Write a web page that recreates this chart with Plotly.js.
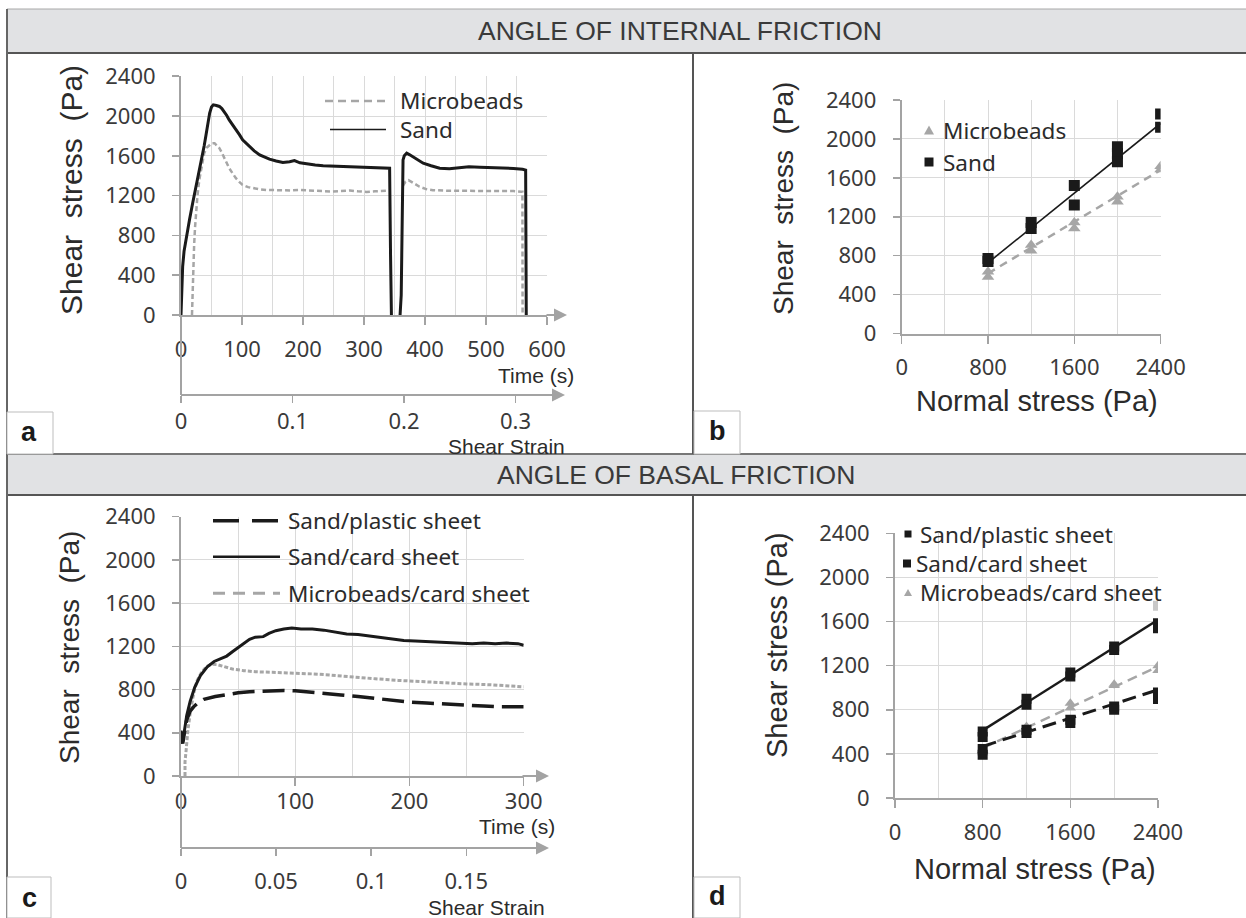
<!DOCTYPE html>
<html><head><meta charset="utf-8">
<script src="https://cdn.plot.ly/plotly-3.0.1.min.js"></script>
<style>html,body{margin:0;padding:0;background:#fff}#chart{width:1246px;height:918px}</style>
</head><body><div id="chart"></div>
<script>
// ---------- DATA ----------
// Panel a: shear stress (Pa) vs time (s)
const timeSandA = [0,2.7,5,8,11,14,19,23,27,31,35,38,41,44,47,50,53,58,63,67,71,75,79,85,90,96,101,107,112,120,129,137,145,156,167,178,186,195,205,220,233,250,266,282,298,315,331,342,343.5,344,345,350,356,359,361,362,363,364,366,370,375,381,390,397,410,424,440,460,472,490,508,525,545,560,565,565.5,566];
const stressSandA = [0,486,640,754,870,960,1120,1240,1358,1470,1590,1700,1810,1930,2030,2090,2112,2105,2096,2075,2045,2005,1961,1910,1861,1810,1760,1725,1693,1650,1609,1585,1566,1548,1532,1540,1552,1530,1519,1508,1499,1495,1492,1490,1485,1482,1479,1475,600,0,-20,-30,-25,-15,200,700,1200,1559,1600,1626,1610,1586,1555,1526,1500,1475,1470,1480,1490,1485,1483,1478,1473,1465,1456,700,0];
const timeBeadsA = [18,19,20,21.5,23,24.6,27,30,34,38,42,46.5,50,55,60,63,67,71,75,79,85,90,96,101,110,118,130,140,155,167,180,194,210,222,236,249,262,277,290,304,318,331,340,null,364,368,373,380,391,402,413,435,455,472,490,508,525,545,558,559.7,560];
const stressBeadsA = [0,250,480,700,880,1023,1200,1358,1500,1626,1680,1710,1725,1727,1700,1677,1630,1576,1525,1475,1420,1375,1335,1308,1285,1274,1262,1257,1254,1251,1252,1257,1250,1247,1244,1240,1246,1251,1243,1237,1243,1247,1250,null,1300,1339,1356,1330,1289,1265,1255,1249,1250,1249,1247,1245,1246,1245,1238,1238,0];
const seriesNamesA = ['Microbeads','Sand'];

// Panel b: shear stress vs normal stress
const normalSandB = [800,800,1200,1200,1600,1600,2000,2000,2000,2400,2400];
const shearSandB = [770,740,1140,1080,1520,1320,1920,1850,1765,2255,2120];
const normalBeadsB = [800,800,1200,1200,1600,1600,2000,2000,2400,2400];
const shearBeadsB = [635,580,910,850,1140,1080,1405,1355,1720,1685];
const fitNormal = [800,2400];
const fitSandB = [727,2159];
const fitBeadsB = [617,1680];

// Panel c: basal friction vs time
const timeCardC = [0,1.5,3,5,8,12,17,23,29,35,40,45,50,55,60,65,72,77,83,90,97,105,115,125,135,145,155,165,175,185,195,205,215,225,235,245,255,265,275,285,295,300];
const stressCardC = [420,320,420,560,690,820,930,1010,1060,1090,1110,1150,1190,1230,1265,1285,1290,1320,1345,1360,1370,1360,1360,1350,1335,1315,1310,1295,1280,1265,1255,1250,1245,1245,1240,1230,1225,1230,1225,1230,1225,1210];
const timeBeadsC = [3.5,3.5,4.5,6,8,11,14,18,22,27,32,38,45,55,65,80,100,115,130,150,170,190,210,230,250,270,290,300];
const stressBeadsC = [0,130,240,420,580,760,880,960,1010,1035,1030,1010,990,975,965,960,955,945,935,915,900,885,872,862,852,845,835,825];
const timePlasticC = [0,1.5,3,5,8,11,15,20,30,40,50,60,75,90,100,110,125,140,155,170,185,200,215,230,250,265,280,290,300];
const stressPlasticC = [380,300,400,520,600,640,680,710,735,755,770,780,790,792,788,780,765,750,735,718,700,685,675,665,655,648,640,640,640];
const seriesNamesC = ['Sand/plastic sheet','Sand/card sheet','Microbeads/card sheet'];

// Panel d: basal friction envelopes
const normalD = [800,800,1200,1200,1600,1600,2000,2000,2400,2400];
const shearPlasticD = [392,444,619,589,709,679,830,800,957,897];
const shearCardD = [604,553,900,845,1138,1102,1374,1343,1585,1540];
const shearBeadsD = [430,410,649,619,860,815,1032,1020,1198,1156];
const strayNormalD = [2400];
const strayShearD = [1742];
const fitPlasticD = [468,981];
const fitCardD = [613,1615];
const fitBeadsD = [453,1192];

// Tick labels for the strain axes
const strainTicksA = [0,0.1,0.2,0.3];
const strainTicksC = [0,0.05,0.1,0.15];

// ---------- LAYOUT HELPERS ----------
const W = 1246, H = 918;
const px = v => v / W;
const py = v => 1 - v / H;
const BLACK = '#1a1a1a', GRAY = '#a6a6a6', AXIS = '#a3a3a3', GRID = '#dadada', TXT = '#2b2b2b';
const tickFont = {family: 'Noto Sans, Open Sans, sans-serif', size: 22, color: '#3a3a3a'};
const legFont = {family: 'Noto Sans, Open Sans, sans-serif', size: 22.5, color: TXT};
const titleFamily = 'Liberation Sans, Arial, sans-serif';

function yAx(dom, anchor) {
  return {domain: dom, anchor, range: [0, 2400], tickmode: 'linear', tick0: 0, dtick: 400,
    ticks: 'outside', ticklen: 7, tickwidth: 1.5, tickcolor: AXIS, showline: true, linecolor: AXIS,
    linewidth: 2, showgrid: true, gridcolor: GRID, gridwidth: 1, zeroline: false,
    tickfont: tickFont, ticklabelstandoff: 12, fixedrange: true};
}
function xAx(dom, anchor, range, dtick, minor, standoff) {
  return {domain: dom, anchor, range, tickmode: 'linear', tick0: 0, dtick,
    ticks: 'outside', ticklen: 8, tickwidth: 1.5, tickcolor: AXIS, showline: true, linecolor: AXIS,
    linewidth: 2, showgrid: true, gridcolor: GRID, gridwidth: 1, zeroline: false,
    minor: {dtick: minor, tick0: 0, showgrid: true, gridcolor: GRID, gridwidth: 1, ticks: ''},
    tickfont: tickFont, ticklabelstandoff: standoff, fixedrange: true};
}
function strainAx(over, pos, range, vals, standoff) {
  return {overlaying: over, anchor: 'free', position: pos, side: 'bottom', range,
    tickmode: 'array', tickvals: vals, ticktext: vals.map(v => String(v)),
    ticks: 'outside', ticklen: 7, tickwidth: 1.5, tickcolor: AXIS, showline: true, linecolor: AXIS,
    linewidth: 2, showgrid: false, zeroline: false, tickfont: tickFont, ticklabelstandoff: standoff, fixedrange: true};
}

// ---------- TRACES ----------
const traces = [
  // a
  {x: timeBeadsA, y: stressBeadsA, xaxis: 'x', yaxis: 'y', mode: 'lines', name: seriesNamesA[0],
   line: {color: GRAY, width: 2.5, dash: '5px,3px'}, connectgaps: false},
  {x: timeSandA, y: stressSandA, xaxis: 'x', yaxis: 'y', mode: 'lines', name: seriesNamesA[1],
   line: {color: BLACK, width: 3}},
  {x: [], y: [], xaxis: 'x5', yaxis: 'y', mode: 'lines', showlegend: false},
  // b
  {x: fitNormal, y: fitBeadsB, xaxis: 'x2', yaxis: 'y2', mode: 'lines', line: {color: GRAY, width: 2.5, dash: '8px,6px'}},
  {x: fitNormal, y: fitSandB, xaxis: 'x2', yaxis: 'y2', mode: 'lines', line: {color: BLACK, width: 1.6}},
  {x: normalBeadsB, y: shearBeadsB, xaxis: 'x2', yaxis: 'y2', mode: 'markers', name: seriesNamesA[0],
   marker: {symbol: 'triangle-up', size: 11, color: GRAY}},
  {x: normalSandB, y: shearSandB, xaxis: 'x2', yaxis: 'y2', mode: 'markers', name: seriesNamesA[1],
   marker: {symbol: 'square', size: 11, color: BLACK}},
  // c
  {x: timeBeadsC, y: stressBeadsC, xaxis: 'x3', yaxis: 'y3', mode: 'lines', name: seriesNamesC[2],
   line: {color: GRAY, width: 3, dash: '4px,2px'}},
  {x: timePlasticC, y: stressPlasticC, xaxis: 'x3', yaxis: 'y3', mode: 'lines', name: seriesNamesC[0],
   line: {color: BLACK, width: 3.5, dash: '22px,8px'}},
  {x: timeCardC, y: stressCardC, xaxis: 'x3', yaxis: 'y3', mode: 'lines', name: seriesNamesC[1],
   line: {color: BLACK, width: 3}},
  {x: [], y: [], xaxis: 'x6', yaxis: 'y3', mode: 'lines', showlegend: false},
  // d
  {x: strayNormalD, y: strayShearD, xaxis: 'x4', yaxis: 'y4', mode: 'markers', marker: {symbol: 'square', size: 10, color: '#c8c8c8'}},
  {x: fitNormal, y: fitBeadsD, xaxis: 'x4', yaxis: 'y4', mode: 'lines', line: {color: GRAY, width: 2.5, dash: '10px,6px'}},
  {x: fitNormal, y: fitPlasticD, xaxis: 'x4', yaxis: 'y4', mode: 'lines', line: {color: BLACK, width: 3, dash: '14px,7px'}},
  {x: fitNormal, y: fitCardD, xaxis: 'x4', yaxis: 'y4', mode: 'lines', line: {color: BLACK, width: 2.5}},
  {x: normalD, y: shearBeadsD, xaxis: 'x4', yaxis: 'y4', mode: 'markers', name: seriesNamesC[2],
   marker: {symbol: 'triangle-up', size: 10, color: GRAY}},
  {x: normalD, y: shearPlasticD, xaxis: 'x4', yaxis: 'y4', mode: 'markers', name: seriesNamesC[0],
   marker: {symbol: 'square', size: 10, color: BLACK}},
  {x: normalD, y: shearCardD, xaxis: 'x4', yaxis: 'y4', mode: 'markers', name: seriesNamesC[1],
   marker: {symbol: 'square', size: 10, color: BLACK}}
];
traces.forEach(t => { t.showlegend = false; t.hoverinfo = 'skip'; });

// ---------- SHAPES ----------
const shapes = [];
function rectPx(x0, y0, x1, y1, fill, lineColor, lw, layer, opacity) {
  shapes.push({type: 'rect', xref: 'paper', yref: 'paper', x0: px(x0), x1: px(x1), y0: py(y1), y1: py(y0),
    fillcolor: fill, line: {color: lineColor || 'rgba(0,0,0,0)', width: lw || 0}, layer: layer || 'below', opacity: opacity == null ? 1 : opacity});
}
function linePx(x0, y0, x1, y1, color, w, dash, layer) {
  shapes.push({type: 'line', xref: 'paper', yref: 'paper', x0: px(x0), x1: px(x1), y0: py(y0), y1: py(y1),
    line: {color, width: w, dash: dash || 'solid'}, layer: layer || 'above'});
}
function triPx(cx, cy, s, color) {
  const h = s * 0.9;
  shapes.push({type: 'path', xref: 'paper', yref: 'paper',
    path: `M ${px(cx - s/2)},${py(cy + h/2)} L ${px(cx + s/2)},${py(cy + h/2)} L ${px(cx)},${py(cy - h/2)} Z`,
    fillcolor: color, line: {width: 0}, layer: 'above'});
}
function sqPx(cx, cy, s, color) {
  shapes.push({type: 'rect', xref: 'paper', yref: 'paper', x0: px(cx - s/2), x1: px(cx + s/2), y0: py(cy + s/2), y1: py(cy - s/2),
    fillcolor: color, line: {width: 0}, layer: 'above'});
}
// header bands
rectPx(7, 9, 1252, 53, '#e1e2e4', '#a8a8a8', 1);
rectPx(7, 454, 1252, 495, '#e1e2e4', '#8a8a8a', 1);
linePx(7, 53, 1246, 53, '#555', 2);
linePx(7, 495, 1246, 495, '#555', 2);
linePx(7, 454, 1246, 454, '#777', 2);
// frame lines
linePx(7, 9, 7, 918, '#666', 2);
linePx(693, 53, 693, 454, '#555', 2);
linePx(693, 495, 693, 918, '#555', 2);
// letter boxes
rectPx(7, 412, 53, 454, '#fff', '#bdbdbd', 1, 'above');
rectPx(694, 411, 740, 454, '#fff', '#bdbdbd', 1, 'above');
rectPx(7, 877, 51, 918, '#fff', '#bdbdbd', 1, 'above');
rectPx(694, 877, 740, 918, '#fff', '#bdbdbd', 1, 'above');
// legend backgrounds
rectPx(286, 77, 547, 135, '#fff', null, 0, 'between', 0.9);
rectPx(205, 505, 524, 614, '#fff', null, 0, 'between', 0.75);
rectPx(898, 520, 1158, 608, '#fff', null, 0, 'between', 0.75);
rectPx(905, 110, 1072, 178, '#fff', null, 0, 'between', 0.6);
// y axis extensions down to strain axes
linePx(181, 315, 181, 395, AXIS, 2);
linePx(181, 776, 181, 848, AXIS, 2);
// legend samples a
linePx(325, 101, 390, 101, GRAY, 2.5, '8px,5px');
linePx(330, 129.5, 386, 129.5, BLACK, 1.6);
// legend samples c
linePx(213, 520.7, 280, 520.7, BLACK, 3.5, '26px,13px');
linePx(213, 556.7, 280, 556.7, BLACK, 2.5);
linePx(213, 593.3, 280, 593.3, GRAY, 3, '12px,8px');
// legend symbols b
triPx(929, 130, 10, GRAY);
sqPx(929, 162, 9, BLACK);
// legend symbols d
sqPx(908, 534, 7, BLACK);
sqPx(907, 563.5, 8, BLACK);
triPx(908, 592.5, 8, GRAY);

// ---------- ANNOTATIONS ----------
const ann = [];
function txt(text, x, y, font, xanchor, angle) {
  ann.push({text, x: px(x), y: py(y), xref: 'paper', yref: 'paper', showarrow: false,
    xanchor: xanchor || 'center', yanchor: 'middle', font, textangle: angle || 0, borderpad: 0});
}
function arrow(xTip, y, len) {
  ann.push({text: '', x: px(xTip), y: py(y), xref: 'paper', yref: 'paper', showarrow: true,
    ax: -len, ay: 0, arrowhead: 2, arrowsize: 1.3, arrowwidth: 2, arrowcolor: AXIS, standoff: 0});
}
const hdrFont = {family: titleFamily, size: 26.5, color: '#3a3a3a'};
txt('ANGLE OF INTERNAL FRICTION', 680, 31, hdrFont);
txt('ANGLE OF BASAL FRICTION', 676, 475, hdrFont);
const letFont = {family: titleFamily, size: 27, color: '#1a1a1a'};
txt('<b>a</b>', 29, 432, letFont);
txt('<b>b</b>', 717, 431, letFont);
txt('<b>c</b>', 29, 898, letFont);
txt('<b>d</b>', 717, 896, letFont);
const nb = '\u00a0';
txt('Shear' + nb + nb + 'stress' + nb + nb + '(Pa)', 71, 190, {family: titleFamily, size: 30, color: TXT}, 'center', -90);
txt('Shear' + nb + nb + 'stress' + nb + nb + '(Pa)', 784, 199, {family: titleFamily, size: 28, color: TXT}, 'center', -90);
txt('Shear' + nb + nb + 'stress' + nb + nb + '(Pa)', 69, 648, {family: titleFamily, size: 28, color: TXT}, 'center', -90);
txt('Shear stress (Pa)', 777, 645, {family: titleFamily, size: 29, color: TXT}, 'center', -90);
txt('Normal stress (Pa)', 1037, 401, {family: titleFamily, size: 29, color: TXT});
txt('Normal stress (Pa)', 1035, 869, {family: titleFamily, size: 29, color: TXT});
const smallFont = {family: titleFamily, size: 21, color: TXT};
txt('Time (s)', 575, 375, smallFont, 'right');
txt('Shear Strain', 566, 446, smallFont, 'right');
txt('Time (s)', 556, 826, smallFont, 'right');
txt('Shear Strain', 546, 907, smallFont, 'right');
// legends (text)
txt(seriesNamesA[0], 399, 101, legFont, 'left');
txt(seriesNamesA[1], 399, 129.5, legFont, 'left');
txt(seriesNamesA[0], 942, 130, legFont, 'left');
txt(seriesNamesA[1], 942, 162, legFont, 'left');
txt(seriesNamesC[0], 287, 520.7, legFont, 'left');
txt(seriesNamesC[1], 287, 556.7, legFont, 'left');
txt(seriesNamesC[2], 287, 593.3, legFont, 'left');
txt(seriesNamesC[0], 919, 534, legFont, 'left');
txt(seriesNamesC[1], 915, 563.5, legFont, 'left');
txt(seriesNamesC[2], 919, 592.5, legFont, 'left');
// axis arrows
arrow(567, 315, 22);
arrow(565, 395, 22);
arrow(549, 776, 28);
arrow(549, 848, 28);

// ---------- LAYOUT ----------
const layout = {
  width: W, height: H, margin: {l: 0, r: 0, t: 0, b: 0}, paper_bgcolor: '#fff', plot_bgcolor: 'rgba(0,0,0,0)',
  showlegend: false,
  xaxis: xAx([px(181), px(547)], 'y', [0, 600], 100, 50, 6),
  yaxis: yAx([py(315), py(76.2)], 'x'),
  xaxis2: xAx([px(901.7), px(1160.6)], 'y2', [0, 2400], 800, 400, 5),
  yaxis2: yAx([py(333.5), py(100)], 'x2'),
  xaxis3: xAx([px(181), px(523.7)], 'y3', [0, 300], 100, 50, -3),
  yaxis3: yAx([py(776), py(516.7)], 'x3'),
  xaxis4: xAx([px(895), px(1158)], 'y4', [0, 2400], 800, 400, 6),
  yaxis4: yAx([py(798), py(533.3)], 'x4'),
  xaxis5: strainAx('x', py(395), [0, 0.3283], strainTicksA, 0),
  xaxis6: strainAx('x3', py(848), [0, 0.1802], strainTicksC, 7),
  shapes, annotations: ann
};

Plotly.newPlot('chart', traces, layout, {staticPlot: true, displayModeBar: false});
</script>
</body></html>
